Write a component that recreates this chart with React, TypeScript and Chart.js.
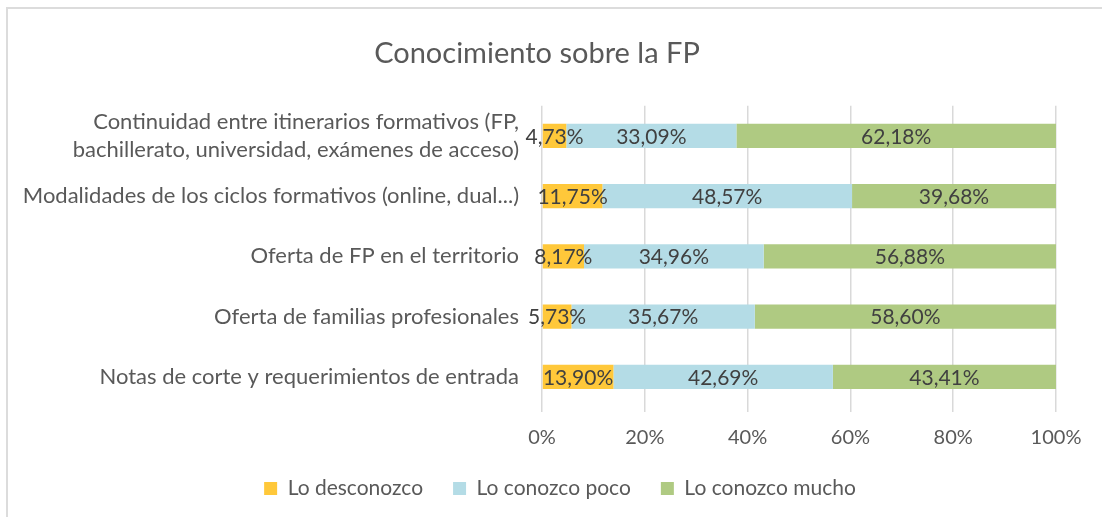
import React, { useEffect, useRef } from "react";
import { Chart, registerables } from "chart.js";

Chart.register(...registerables);

const categories: (string | string[])[] = [
  ["Continuidad entre itinerarios formativos (FP,", "bachillerato, universidad, exámenes de acceso)"],
  "Modalidades de los ciclos formativos (online, dual...)",
  "Oferta de FP en el territorio",
  "Oferta de familias profesionales",
  "Notas de corte y requerimientos de entrada",
];

const seriesNames = ["Lo desconozco", "Lo conozco poco", "Lo conozco mucho"];
const loDesconozco = [4.73, 11.75, 8.17, 5.73, 13.9];
const loConozcoPoco = [33.09, 48.57, 34.96, 35.67, 42.69];
const loConozcoMucho = [62.18, 39.68, 56.88, 58.6, 43.41];
const xTicks = [0, 20, 40, 60, 80, 100];

const COLORS = ["#FFC83A", "#B4DCE6", "#AFCA82"];
const FONT = "Lato, 'Open Sans', sans-serif";

const fmt = (v: number) => v.toFixed(2).replace(".", ",") + "%";

const segLabels = {
  id: "segLabels",
  afterDatasetsDraw(chart: any) {
    const ctx = chart.ctx;
    ctx.save();
    ctx.font = `21px ${FONT}`;
    ctx.fillStyle = "#404040";
    ctx.textAlign = "center";
    ctx.textBaseline = "middle";
    chart.data.datasets.forEach((ds: any, di: number) => {
      const meta = chart.getDatasetMeta(di);
      meta.data.forEach((el: any, i: number) => {
        const p = el.getProps(["x", "y", "base"], true);
        ctx.fillText(fmt(ds.data[i]), (p.x + p.base) / 2, p.y + 1);
      });
    });
    ctx.restore();
  },
};

// nudge the title and legend boxes horizontally to match the reference placement
const shiftBoxes = {
  id: "shiftBoxes",
  afterLayout(chart: any) {
    if (chart.legend) {
      chart.legend.left += 32;
      chart.legend.right += 32;
    }
    if (chart.titleBlock) {
      chart.titleBlock.left += 9;
      chart.titleBlock.right += 9;
    }
  },
};

export default function App() {
  const ref = useRef<HTMLCanvasElement | null>(null);

  useEffect(() => {
    if (!ref.current) return;
    const chart = new Chart(ref.current, {
      type: "bar",
      data: {
        labels: categories,
        datasets: [loDesconozco, loConozcoPoco, loConozcoMucho].map((d, i) => ({
          label: seriesNames[i],
          data: d,
          backgroundColor: COLORS[i],
          borderWidth: 0,
          categoryPercentage: 1,
          barPercentage: 0.4,
        })),
      },
      options: {
        indexAxis: "y",
        animation: false,
        responsive: false,
        maintainAspectRatio: false,
        layout: { padding: { left: 0, right: 46, top: 0, bottom: 8 } },
        scales: {
          x: {
            stacked: true,
            min: 0,
            max: 100,
            afterBuildTicks: (scale: any) => {
              scale.ticks = xTicks.map((v) => ({ value: v }));
            },
            afterFit: (scale: any) => {
              scale.height = 41;
            },
            ticks: {
              callback: (v: any) => v + "%",
              color: "#595959",
              font: { family: FONT, size: 20, lineHeight: 1.0 },
              padding: 16,
              maxRotation: 0,
            },
            grid: { color: "#d9d9d9", lineWidth: 1.5, tickLength: 5 },
            border: { display: false },
          },
          y: {
            stacked: true,
            afterFit: (scale: any) => {
              scale.width = 542;
            },
            ticks: {
              color: "#595959",
              font: { family: FONT, size: 22, lineHeight: 1.25 },
              padding: 15,
            },
            grid: { display: false },
            border: { display: false },
          },
        },
        plugins: {
          title: {
            display: true,
            text: "Conocimiento sobre la FP",
            color: "#595959",
            font: { family: FONT, size: 29, weight: "normal" },
            padding: { top: 36, bottom: 35 },
          },
          legend: {
            position: "bottom",
            labels: {
              color: "#595959",
              font: { family: FONT, size: 21 },
              boxWidth: 13,
              boxHeight: 13,
              padding: 30,
            },
          },
          tooltip: { enabled: false },
        },
      },
      plugins: [segLabels, shiftBoxes],
    } as any);
    return () => chart.destroy();
  }, []);

  return (
    <div style={{ position: "absolute", left: 0, top: 0, width: 1102, height: 517, background: "#fff" }}>
      <canvas ref={ref} width={1102} height={517} style={{ position: "absolute", left: 0, top: 0 }} />
      <div
        style={{
          position: "absolute",
          left: 6,
          top: 7,
          right: 0,
          bottom: 0,
          borderLeft: "2px solid #dcdcdc",
          borderTop: "2px solid #dcdcdc",
          pointerEvents: "none",
        }}
      />
    </div>
  );
}
